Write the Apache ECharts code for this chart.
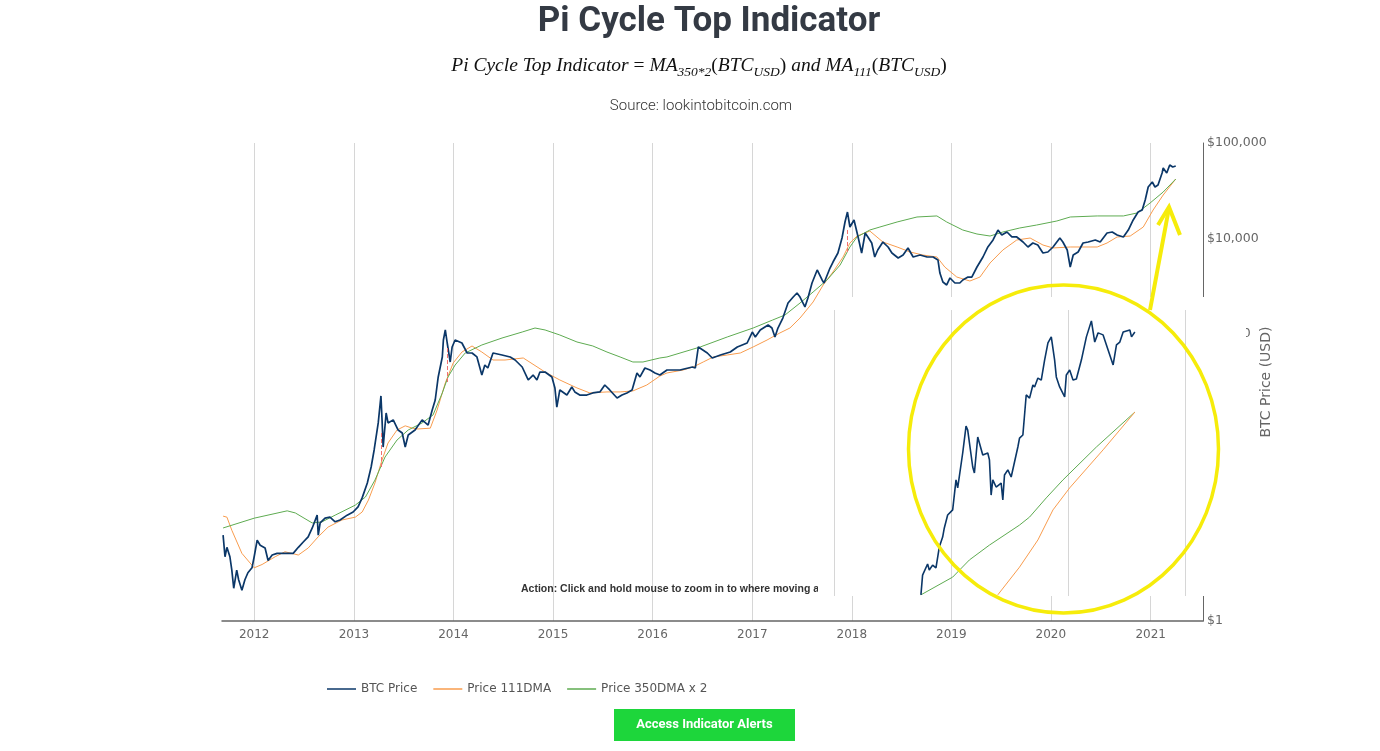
<!DOCTYPE html>
<html>
<head>
<meta charset="utf-8">
<title>Pi Cycle Top Indicator</title>
<script src="https://cdn.jsdelivr.net/npm/echarts@6.0.0/dist/echarts.min.js"></script>
<style>
  html, body { margin: 0; padding: 0; background: #fff; }
  #main { width: 1380px; height: 751px; }
</style>
</head>
<body>
<div id="main"></div>
<script>
// BTC price (USD)
const btcDates = ['2011-09-09','2011-09-16','2011-09-23','2011-10-04','2011-10-11','2011-10-18','2011-10-29','2011-11-05','2011-11-17','2011-11-28','2011-12-09','2011-12-24',
  '2012-01-01','2012-01-12','2012-01-23','2012-02-10','2012-02-21','2012-03-07','2012-03-25','2012-04-13','2012-05-01','2012-05-23','2012-06-11','2012-06-29','2012-07-17','2012-08-01','2012-08-08','2012-08-19','2012-08-23','2012-08-30','2012-09-17','2012-10-05','2012-10-24','2012-11-11','2012-12-07','2012-12-29',
  '2013-01-16','2013-01-31','2013-02-19','2013-03-05','2013-03-16','2013-03-31','2013-04-10','2013-04-14','2013-04-18','2013-04-29','2013-05-06','2013-05-25','2013-06-12','2013-06-27','2013-07-08','2013-07-19','2013-08-13','2013-09-08','2013-09-30','2013-10-15','2013-10-26','2013-11-06','2013-11-21','2013-11-25','2013-12-02','2013-12-09','2013-12-20','2013-12-27',
  '2014-01-07','2014-02-01','2014-02-20','2014-03-10','2014-03-28','2014-04-15','2014-04-26','2014-05-07','2014-05-26','2014-06-28','2014-07-28','2014-08-15','2014-09-10','2014-10-02','2014-10-20','2014-11-03','2014-11-14','2014-12-03','2014-12-28',
  '2015-01-08','2015-01-15','2015-01-26','2015-02-21','2015-03-11','2015-03-22','2015-04-09','2015-05-05','2015-05-27','2015-06-22','2015-07-10','2015-07-28','2015-08-24','2015-09-11','2015-09-29','2015-10-18','2015-11-05','2015-11-16','2015-12-04','2015-12-23',
  '2016-01-10','2016-01-28','2016-02-23','2016-04-11','2016-05-26','2016-06-06','2016-06-17','2016-07-20','2016-08-07','2016-09-06','2016-10-12','2016-11-07','2016-12-13',
  '2017-01-01','2017-01-12','2017-01-30','2017-02-28','2017-03-14','2017-03-25','2017-04-05','2017-04-23','2017-05-12','2017-05-31','2017-06-14','2017-06-25','2017-07-13','2017-07-24','2017-08-08','2017-08-27','2017-09-14','2017-09-21','2017-10-13','2017-10-24','2017-11-11','2017-11-26','2017-12-07','2017-12-16','2017-12-25',
  '2018-01-09','2018-01-24','2018-02-06','2018-02-19','2018-03-01','2018-03-15','2018-03-26','2018-04-06','2018-04-25','2018-05-14','2018-05-28','2018-06-20','2018-07-08','2018-07-26','2018-08-14','2018-09-08','2018-10-04','2018-10-26','2018-11-13','2018-11-20','2018-12-01','2018-12-15','2018-12-27',
  '2019-01-14','2019-02-01','2019-02-12','2019-03-03','2019-03-17','2019-04-05','2019-04-27','2019-05-15','2019-06-03','2019-06-21','2019-07-05','2019-07-24','2019-08-11','2019-08-29','2019-09-21','2019-10-09','2019-10-27','2019-11-14','2019-12-03','2019-12-21',
  '2020-01-09','2020-02-03','2020-02-14','2020-03-01','2020-03-12','2020-03-23','2020-04-10','2020-04-28','2020-05-17','2020-06-12','2020-06-30','2020-07-25','2020-08-13','2020-08-31','2020-09-23','2020-10-11','2020-10-29','2020-11-16','2020-12-01','2020-12-12','2020-12-23',
  '2021-01-07','2021-01-17','2021-01-28','2021-02-12','2021-02-16','2021-03-01','2021-03-12','2021-03-23','2021-04-03'];
const btcPrices = [7.9,4.7,5.9,4.7,3.4,2.2,3.4,2.7,2.1,2.7,3.2,3.6,
  4.7,7.0,6.2,5.8,4.3,4.9,5.1,5.1,5.1,5.1,5.9,6.7,7.6,9.4,10.6,12.8,7.9,10.6,11.9,12.2,10.9,11.4,12.8,13.8,
  15.6,19.4,27.8,40.8,61.5,118,226,127,66,150,118,127,99.5,92.6,66,88.3,99.5,127,112,161,205,357,578,869,1107,809,512,735,
  869,809,636,636,578,374,476,443,636,606,578,537,454,332,374,332,402,402,357,
  274,173,261,231,280,249,231,231,243,249,294,261,215,231,243,261,393,357,443,422,
  393,374,422,422,454,443,735,636,564,606,651,735,809,
  1054,935,1107,1248,1161,935,1161,1476,2119,2449,2698,2449,1926,2393,3434,4697,3690,3434,4920,5690,7066,10140,14920,18970,13220,
  15660,10400,7066,11450,10400,8990,6420,7600,9210,8170,7066,6270,6730,7980,6420,6730,6420,6420,5970,4365,3516,3273,3873,
  3434,3434,3690,3963,3963,5045,6420,8170,9670,12300,10900,11720,10400,10400,9210,8170,8990,8570,7066,7240,
  8170,10140,9210,7600,5045,6730,7240,8990,9210,9670,9210,11450,11720,10900,10400,12300,15660,18970,19910,25350,34670,
  39080,34670,36380,48530,54700,48530,58880,56100,57440];

// 111 day moving average
const ma111Dates = ['2011-09-09','2011-09-23','2011-10-11','2011-11-17','2012-01-01','2012-01-30','2012-03-18','2012-04-23','2012-06-11','2012-07-17','2012-08-23','2012-09-28','2012-11-18',
  '2013-01-06','2013-01-31','2013-02-23','2013-03-19','2013-04-14','2013-05-06','2013-06-08','2013-07-08','2013-08-03','2013-08-24','2013-10-08','2013-11-02','2013-12-02','2013-12-31',
  '2014-02-01','2014-03-10','2014-04-15','2014-05-26','2014-07-09','2014-09-14','2014-12-03','2015-01-26','2015-03-30','2015-05-16','2015-07-18','2015-09-04','2015-10-21','2015-12-11',
  '2016-01-28','2016-02-23','2016-04-22','2016-05-29','2016-07-05','2016-08-11','2016-10-01','2016-11-18','2017-01-04','2017-02-24','2017-04-12','2017-05-19','2017-06-25','2017-08-12','2017-09-18','2017-10-24','2017-11-30','2017-12-25',
  '2018-01-20','2018-03-08','2018-04-25','2018-06-16','2018-08-03','2018-09-19','2018-11-09','2018-12-08','2019-01-21','2019-03-10','2019-04-16','2019-05-23','2019-07-09','2019-08-29','2019-10-17','2019-12-03',
  '2020-01-09','2020-03-12','2020-06-19','2020-07-25','2020-08-31','2020-10-18','2020-12-05','2021-01-10','2021-02-16','2021-04-03'];
const ma111Values = [12.5,12.2,8.9,5.1,3.6,3.9,4.7,5.3,4.9,5.8,7.6,9.6,11.4,
  12.2,13.8,18.4,27.8,48.3,72.8,99.5,110,104,102,104,161,309,500,
  651,753,651,537,537,564,402,332,274,243,249,249,255,294,
  365,393,422,454,512,578,606,636,735,869,1030,1161,1476,2173,3273,4477,6420,8990,
  10640,12000,9210,8170,7240,6730,6420,5045,3963,3600,3963,5560,7600,9670,10140,8570,
  7980,8170,8170,8990,10400,10640,13220,19910,28580,42000];

// 350 day moving average x 2
const ma350Dates = ['2011-09-09','2012-01-01','2012-05-01','2012-05-31','2012-08-01','2012-09-06','2012-10-24',
  '2013-01-06','2013-02-12','2013-03-19','2013-04-25','2013-06-08','2013-07-19','2013-09-08','2013-10-18','2013-11-21','2013-12-12',
  '2014-01-07','2014-02-13','2014-04-15','2014-06-28','2014-09-10','2014-10-27','2014-12-03','2015-01-26','2015-03-30','2015-05-27','2015-07-18','2015-09-04','2015-10-21','2015-11-27',
  '2016-01-28','2016-02-23','2016-06-24','2016-10-01','2017-01-04','2017-03-17','2017-05-01','2017-06-25','2017-08-12','2017-10-02','2017-11-19','2017-12-25',
  '2018-01-20','2018-03-08','2018-04-14','2018-06-16','2018-08-28','2018-11-09','2018-12-15','2019-02-12','2019-04-05','2019-05-23','2019-07-09','2019-09-09','2019-11-10',
  '2020-01-23','2020-03-12','2020-06-19','2020-09-23','2020-11-12','2020-12-30','2021-02-16','2021-04-03'];
const ma350x2Values = [9.4,11.9,14.2,13.5,10.6,10.9,12.8,
  16.3,19.8,29.8,51.9,78.2,99.5,118,143,243,357,
  476,636,771,912,1054,1161,1107,981,829,753,651,578,512,512,
  564,578,735,935,1161,1409,1589,2119,2763,3690,5290,8170,
  10400,12300,13220,14920,16830,17260,14920,12300,11170,10640,11720,12910,13870,
  15280,16830,17260,17260,18530,23570,30720,42000];

// red dashed markers where the 111DMA crosses above 350DMA x 2
const crossDates = ['2013-04-10','2013-12-09','2017-12-16'];
const crossLow = [40.8,316,7240];
const crossHigh = [92.6,718,12910];

// zoomed snapshot of the December 2017 cross (days, USD)
const insetBtcDays = [5.2,5.3,5.6,5.7,5.9,6.1,6.3,6.5,6.6,6.8,7.1,7.3,7.4,7.7,7.9,8.0,8.3,8.4,8.6,8.9,9.2,9.3,9.4,9.5,9.7,10.0,10.1,10.2,10.4,10.6,11.0,11.1,11.3,11.5,11.7,11.9,12.0,12.2,12.4,12.6,12.8,13.0,13.2,13.3,13.5,13.8,13.9,14.1,14.3,14.5,14.8,15.1,15.4,15.6,15.8,16.1,16.4,16.7,16.9,17.1,17.3,17.7,17.8,18.0];
const insetBtcPrices = [10040,10730,11120,10910,11080,10980,11710,12060,12380,12830,13010,14060,13780,15000,15940,15800,14510,14300,15560,14930,15000,14760,13530,14060,13810,13950,13360,14230,14410,14160,15210,15520,15630,17030,16920,17380,17310,17620,17550,18250,18850,19060,18250,17660,17310,16960,17730,17900,17550,17590,18250,19060,19620,18880,19200,19130,18600,18080,18780,18880,19230,19300,19060,19230];
const insetMa350Days = [5.2,7.1,8.1,9.3,11.1,11.7,12.7,13.7,15.7,18.0];
const insetMa350Values = [10040,10660,11260,11780,12480,12760,13430,14060,15210,16430];
const insetMa111Days = [9.8,11.1,12.2,13.1,14.1,16.1,18.0];
const insetMa111Values = [10040,11010,11960,13010,13780,15110,16430];

const colors = { btc: '#0b3768', ma111: '#f89c4e', ma350: '#5eab51' };
const pair = (xs, ys) => xs.map((x, i) => [x, ys[i]]);

let myChart = echarts.init(document.getElementById('main'));

let option = {
    animation: false,
    textStyle: { fontFamily: 'DejaVu Sans' },
    legend: {
        data: ['BTC Price', 'Price 111DMA', 'Price 350DMA x 2'],
        left: 322,
        top: 678,
        icon: 'rect',
        itemWidth: 29,
        itemHeight: 1.5,
        itemGap: 16,
        textStyle: { color: '#555', fontSize: 12, fontFamily: 'DejaVu Sans' }
    },
    grid: [
        { left: 222, right: 177, top: 143, bottom: 130 },
        { left: 834, top: 310, width: 351, height: 286 }
    ],
    xAxis: [
        {
            type: 'time',
            gridIndex: 0,
            min: '2011-09-05',
            max: '2021-07-12',
            splitNumber: 10,
            axisLine: { lineStyle: { color: '#666', width: 1.5 } },
            axisTick: { show: false },
            axisLabel: {
                formatter: '{yyyy}', color: '#666', fontSize: 12, margin: 8,
                showMinLabel: false, showMaxLabel: false
            },
            splitLine: { show: true, showMinLine: false, showMaxLine: false, lineStyle: { color: '#d6d6d6' } }
        },
        {
            type: 'value',
            gridIndex: 1,
            min: 0, max: 21, interval: 7,
            z: 11,
            axisLine: { show: false },
            axisTick: { show: false },
            axisLabel: { show: false },
            splitLine: { show: true, lineStyle: { color: '#d6d6d6' } }
        }
    ],
    yAxis: [
        {
            type: 'log',
            gridIndex: 0,
            logBase: 10,
            min: 1,
            max: 100000,
            position: 'right',
            axisLine: { show: true, lineStyle: { color: '#666' } },
            axisTick: { show: false },
            splitLine: { show: false },
            axisLabel: {
                margin: 4, color: '#666', fontSize: 12.5,
                formatter: (v) => '$' + Math.round(v).toLocaleString('en-US')
            },
            name: 'BTC Price (USD)',
            nameLocation: 'middle',
            nameRotate: 90,
            nameGap: 56,
            nameMoveOverlap: false,
            nameTextStyle: { color: '#666', fontSize: 14 }
        },
        {
            type: 'value',
            gridIndex: 1,
            min: 10000, max: 20000,
            show: false
        }
    ],
    series: [
        {
            name: 'BTC Price', type: 'line', symbol: 'none', z: 4,
            color: colors.btc, lineStyle: { color: colors.btc, width: 1.7 },
            data: pair(btcDates, btcPrices),
            markLine: {
                silent: true, symbol: 'none', label: { show: false },
                lineStyle: { color: '#f07070', type: 'dashed', width: 1 },
                data: crossDates.map((d, i) => [{ coord: [d, crossLow[i]] }, { coord: [d, crossHigh[i]] }])
            }
        },
        {
            name: 'Price 111DMA', type: 'line', symbol: 'none', z: 3,
            color: colors.ma111, lineStyle: { color: colors.ma111, width: 1 },
            data: pair(ma111Dates, ma111Values)
        },
        {
            name: 'Price 350DMA x 2', type: 'line', symbol: 'none', z: 3,
            color: colors.ma350, lineStyle: { color: colors.ma350, width: 1 },
            data: pair(ma350Dates, ma350x2Values)
        },
        {
            name: 'zoom BTC', type: 'line', symbol: 'none', z: 13,
            xAxisIndex: 1, yAxisIndex: 1,
            lineStyle: { color: colors.btc, width: 1.6 },
            data: pair(insetBtcDays, insetBtcPrices)
        },
        {
            name: 'zoom 350', type: 'line', symbol: 'none', z: 12,
            xAxisIndex: 1, yAxisIndex: 1,
            lineStyle: { color: colors.ma350, width: 1 },
            data: pair(insetMa350Days, insetMa350Values)
        },
        {
            name: 'zoom 111', type: 'line', symbol: 'none', z: 12,
            xAxisIndex: 1, yAxisIndex: 1,
            lineStyle: { color: colors.ma111, width: 1 },
            data: pair(insetMa111Days, insetMa111Values)
        }
    ],
    graphic: [
        // titles
        {
            type: 'text', z: 30,
            style: { text: 'Pi Cycle Top Indicator', x: 709, y: 22, align: 'center', verticalAlign: 'middle',
                     font: 'bold 35px Roboto', fill: '#343a44' }
        },
        {
            type: 'text', z: 30,
            style: {
                x: 699, y: 66, align: 'center', verticalAlign: 'middle',
                text: '{i|Pi Cycle Top Indicator}{n| = }{i|MA}{s|350*2}{n|(}{i|BTC}{s|USD}{n|)}{i| and }{i|MA}{s|111}{n|(}{i|BTC}{s|USD}{n|)}',
                rich: {
                    i: { font: 'italic 19.5px "Liberation Serif"', fill: '#111', lineHeight: 26 },
                    n: { font: '19.5px "Liberation Serif"', fill: '#111', lineHeight: 26 },
                    s: { font: 'italic 13.5px "Liberation Serif"', fill: '#111', lineHeight: 13, verticalAlign: 'bottom' }
                }
            }
        },
        {
            type: 'text', z: 30,
            style: { text: 'Source: lookintobitcoin.com', x: 701, y: 106, align: 'center', verticalAlign: 'middle',
                     font: '300 15px Roboto', fill: '#333' }
        },
        {
            type: 'text', z: 5,
            style: { text: 'Action: Click and hold mouse to zoom in to where moving averages cross',
                     x: 521, y: 589, verticalAlign: 'middle', font: 'bold 10.5px "Liberation Sans"', fill: '#333' }
        },
        // pasted zoom snapshot covers part of the plot
        {
            type: 'rect', z: 10,
            shape: { x: 818, y: 297, width: 428, height: 299 },
            style: { fill: '#fff' }
        },
        // yellow highlight
        {
            type: 'ellipse', z: 20,
            shape: { cx: 1063.5, cy: 449, rx: 155, ry: 164 },
            style: { fill: 'none', stroke: '#f6ec0a', lineWidth: 3.5 }
        },
        {
            type: 'polyline', z: 20,
            shape: { points: [[1150, 310], [1169, 208]] },
            style: { fill: 'none', stroke: '#f6ec0a', lineWidth: 4 }
        },
        {
            type: 'polyline', z: 20,
            shape: { points: [[1158, 225], [1169, 207], [1180, 235]] },
            style: { fill: 'none', stroke: '#f6ec0a', lineWidth: 4 }
        },
        // alerts button
        {
            type: 'rect', z: 30,
            shape: { x: 614, y: 709, width: 181, height: 32 },
            style: { fill: '#1dd63b' }
        },
        {
            type: 'text', z: 31,
            style: { text: 'Access Indicator Alerts', x: 704.5, y: 725, align: 'center', verticalAlign: 'middle',
                     font: 'bold 13px Roboto', fill: '#fff' }
        }
    ]
};

myChart.setOption(option);
</script>
</body>
</html>
